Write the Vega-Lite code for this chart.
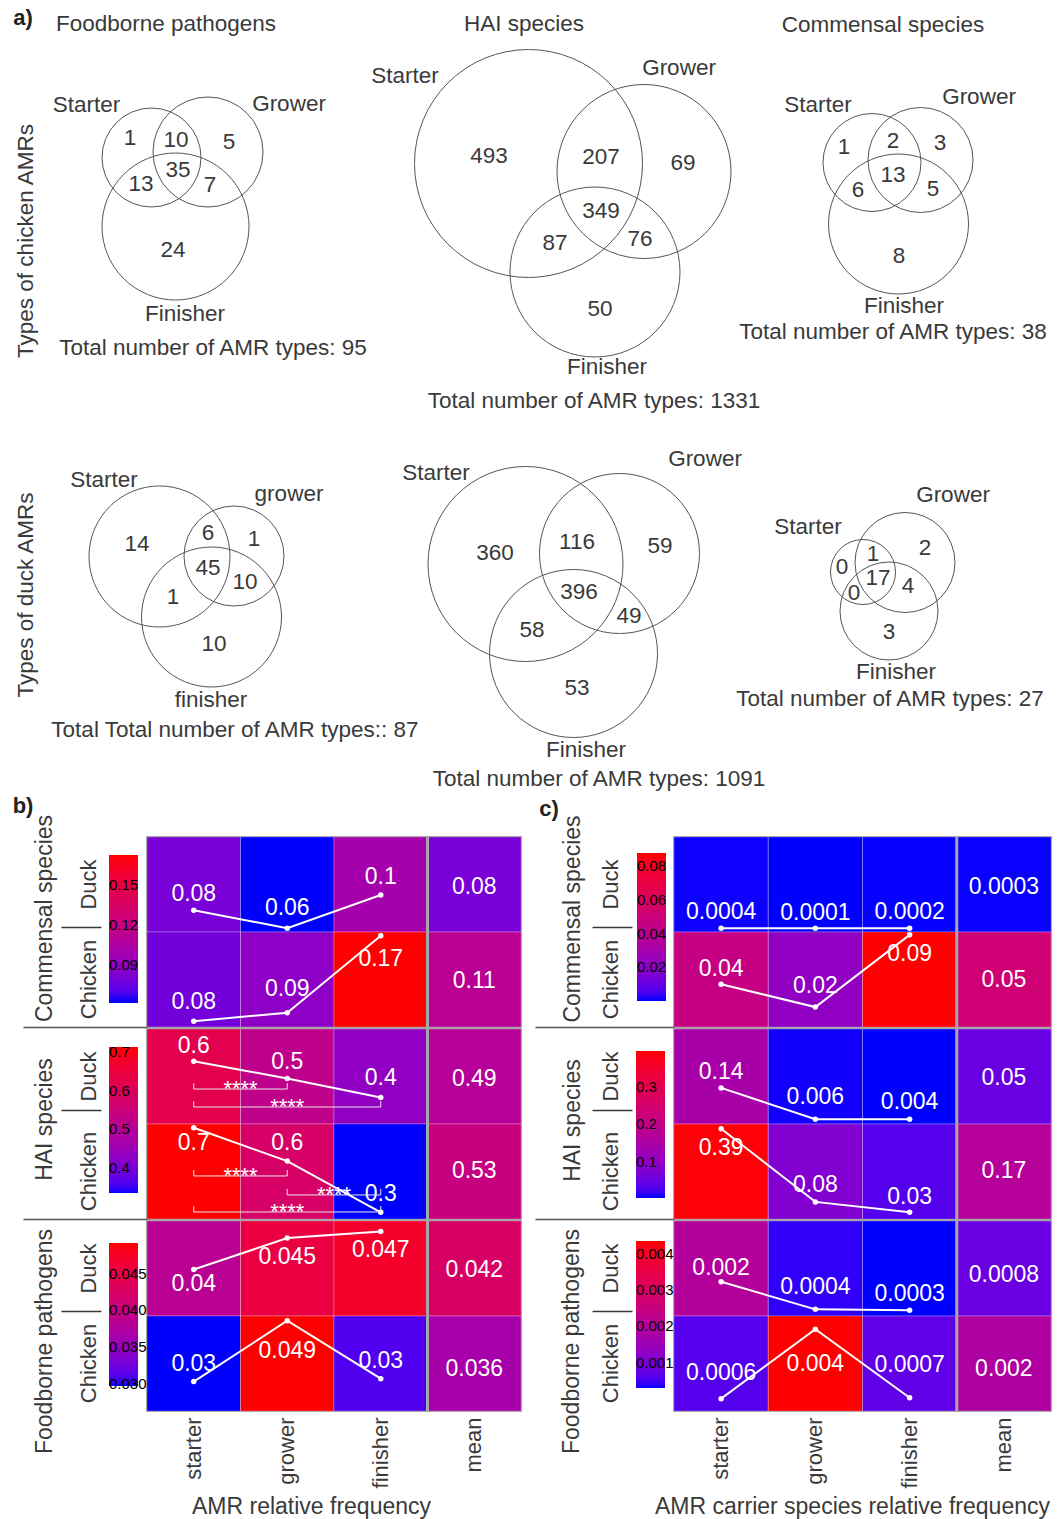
{
"$schema":"https://vega.github.io/schema/vega-lite/v6.json",
"padding":0,
"autosize":{"type":"pad"},
"background":"white",
"config":{"font":"Liberation Sans","view":{"stroke":"#7a7a7a","strokeWidth":1.5}},
"datasets":{
"cells":[
{"p":"b","g":"C","host":"Duck","stage":"starter","v":0.08,"label":"0.08","py":1.23,"ty":1.40},
{"p":"b","g":"C","host":"Duck","stage":"grower","v":0.0615,"label":"0.06","py":1.04,"ty":1.25},
{"p":"b","g":"C","host":"Duck","stage":"finisher","v":0.10,"label":"0.1","py":1.39,"ty":1.58},
{"p":"b","g":"C","host":"Duck","stage":"mean","v":0.08,"label":"0.08","py":null,"ty":1.47},
{"p":"b","g":"C","host":"Chicken","stage":"starter","v":0.078,"label":"0.08","py":0.06,"ty":0.26},
{"p":"b","g":"C","host":"Chicken","stage":"grower","v":0.088,"label":"0.09","py":0.15,"ty":0.40},
{"p":"b","g":"C","host":"Chicken","stage":"finisher","v":0.1725,"label":"0.17","py":0.96,"ty":0.72},
{"p":"b","g":"C","host":"Chicken","stage":"mean","v":0.112,"label":"0.11","py":null,"ty":0.48},
{"p":"b","g":"H","host":"Duck","stage":"starter","v":0.62,"label":"0.6","py":1.66,"ty":1.82},
{"p":"b","g":"H","host":"Duck","stage":"grower","v":0.52,"label":"0.5","py":1.48,"ty":1.65},
{"p":"b","g":"H","host":"Duck","stage":"finisher","v":0.43,"label":"0.4","py":1.28,"ty":1.48},
{"p":"b","g":"H","host":"Duck","stage":"mean","v":0.50,"label":"0.49","py":null,"ty":1.47},
{"p":"b","g":"H","host":"Chicken","stage":"starter","v":0.713,"label":"0.7","py":0.96,"ty":0.80},
{"p":"b","g":"H","host":"Chicken","stage":"grower","v":0.58,"label":"0.6","py":0.61,"ty":0.80},
{"p":"b","g":"H","host":"Chicken","stage":"finisher","v":0.335,"label":"0.3","py":0.07,"ty":0.26},
{"p":"b","g":"H","host":"Chicken","stage":"mean","v":0.54,"label":"0.53","py":null,"ty":0.51},
{"p":"b","g":"F","host":"Duck","stage":"starter","v":0.0385,"label":"0.04","py":1.49,"ty":1.34},
{"p":"b","g":"F","host":"Duck","stage":"grower","v":0.0455,"label":"0.045","py":1.82,"ty":1.62},
{"p":"b","g":"F","host":"Duck","stage":"finisher","v":0.0472,"label":"0.047","py":1.89,"ty":1.70},
{"p":"b","g":"F","host":"Duck","stage":"mean","v":0.0425,"label":"0.042","py":null,"ty":1.48},
{"p":"b","g":"F","host":"Chicken","stage":"starter","v":0.0297,"label":"0.03","py":0.31,"ty":0.49},
{"p":"b","g":"F","host":"Chicken","stage":"grower","v":0.0492,"label":"0.049","py":0.95,"ty":0.63},
{"p":"b","g":"F","host":"Chicken","stage":"finisher","v":0.031,"label":"0.03","py":0.34,"ty":0.53},
{"p":"b","g":"F","host":"Chicken","stage":"mean","v":0.0365,"label":"0.036","py":null,"ty":0.44},
{"p":"c","g":"C","host":"Duck","stage":"starter","v":0.0004,"label":"0.0004","py":1.04,"ty":1.21},
{"p":"c","g":"C","host":"Duck","stage":"grower","v":0.0001,"label":"0.0001","py":1.04,"ty":1.20},
{"p":"c","g":"C","host":"Duck","stage":"finisher","v":0.0002,"label":"0.0002","py":1.04,"ty":1.21},
{"p":"c","g":"C","host":"Duck","stage":"mean","v":0.0003,"label":"0.0003","py":null,"ty":1.47},
{"p":"c","g":"C","host":"Chicken","stage":"starter","v":0.046,"label":"0.04","py":0.45,"ty":0.61},
{"p":"c","g":"C","host":"Chicken","stage":"grower","v":0.022,"label":"0.02","py":0.21,"ty":0.43},
{"p":"c","g":"C","host":"Chicken","stage":"finisher","v":0.0876,"label":"0.09","py":0.97,"ty":0.77},
{"p":"c","g":"C","host":"Chicken","stage":"mean","v":0.052,"label":"0.05","py":null,"ty":0.49},
{"p":"c","g":"H","host":"Duck","stage":"starter","v":0.144,"label":"0.14","py":1.38,"ty":1.55},
{"p":"c","g":"H","host":"Duck","stage":"grower","v":0.006,"label":"0.006","py":1.05,"ty":1.28},
{"p":"c","g":"H","host":"Duck","stage":"finisher","v":0.004,"label":"0.004","py":1.05,"ty":1.23},
{"p":"c","g":"H","host":"Duck","stage":"mean","v":0.05,"label":"0.05","py":null,"ty":1.48},
{"p":"c","g":"H","host":"Chicken","stage":"starter","v":0.39,"label":"0.39","py":0.95,"ty":0.75},
{"p":"c","g":"H","host":"Chicken","stage":"grower","v":0.08,"label":"0.08","py":0.18,"ty":0.36},
{"p":"c","g":"H","host":"Chicken","stage":"finisher","v":0.034,"label":"0.03","py":0.07,"ty":0.23},
{"p":"c","g":"H","host":"Chicken","stage":"mean","v":0.17,"label":"0.17","py":null,"ty":0.51},
{"p":"c","g":"F","host":"Duck","stage":"starter","v":0.002,"label":"0.002","py":1.36,"ty":1.51},
{"p":"c","g":"F","host":"Duck","stage":"grower","v":0.0004,"label":"0.0004","py":1.07,"ty":1.31},
{"p":"c","g":"F","host":"Duck","stage":"finisher","v":0.0003,"label":"0.0003","py":1.06,"ty":1.23},
{"p":"c","g":"F","host":"Duck","stage":"mean","v":0.0008,"label":"0.0008","py":null,"ty":1.43},
{"p":"c","g":"F","host":"Chicken","stage":"starter","v":0.0006,"label":"0.0006","py":0.13,"ty":0.40},
{"p":"c","g":"F","host":"Chicken","stage":"grower","v":0.00436,"label":"0.004","py":0.86,"ty":0.50},
{"p":"c","g":"F","host":"Chicken","stage":"finisher","v":0.0007,"label":"0.0007","py":0.14,"ty":0.48},
{"p":"c","g":"F","host":"Chicken","stage":"mean","v":0.0019,"label":"0.002","py":null,"ty":0.44}
],
"br":[
{"host":"Duck","from":"starter","to":"grower","by":1.368,"bt":1.43,"ts":"starter","k":"e","sig":"****"},
{"host":"Duck","from":"starter","to":"finisher","by":1.179,"bt":1.24,"ts":"grower","k":"c","sig":"****"},
{"host":"Chicken","from":"starter","to":"grower","by":0.453,"bt":0.516,"ts":"starter","k":"e","sig":"****"},
{"host":"Chicken","from":"grower","to":"finisher","by":0.253,"bt":0.316,"ts":"grower","k":"e","sig":"****"},
{"host":"Chicken","from":"starter","to":"finisher","by":0.074,"bt":0.137,"ts":"grower","k":"c","sig":"****"}
],
"circles":[
{"d":"FC","s":"Starter","cx":150.5,"cy":157.5,"r":49.5},
{"d":"FC","s":"Grower","cx":207,"cy":152,"r":55},
{"d":"FC","s":"Finisher","cx":174.5,"cy":226.5,"r":73.5},
{"d":"HC","s":"Starter","cx":527.5,"cy":163.5,"r":114},
{"d":"HC","s":"Grower","cx":643,"cy":171.5,"r":87},
{"d":"HC","s":"Finisher","cx":594,"cy":272,"r":85},
{"d":"CC","s":"Starter","cx":871,"cy":162.5,"r":49},
{"d":"CC","s":"Grower","cx":919.5,"cy":160,"r":52.5},
{"d":"CC","s":"Finisher","cx":897.5,"cy":224,"r":70},
{"d":"FD","s":"Starter","cx":158.5,"cy":556.5,"r":70.5},
{"d":"FD","s":"Grower","cx":233,"cy":556,"r":50},
{"d":"FD","s":"Finisher","cx":210.5,"cy":617,"r":70},
{"d":"HD","s":"Starter","cx":524.5,"cy":564,"r":97.5},
{"d":"HD","s":"Grower","cx":618.5,"cy":553.5,"r":80},
{"d":"HD","s":"Finisher","cx":572.5,"cy":653.5,"r":84},
{"d":"CD","s":"Starter","cx":862,"cy":572,"r":32.5},
{"d":"CD","s":"Grower","cx":904,"cy":562.5,"r":50},
{"d":"CD","s":"Finisher","cx":888,"cy":611,"r":49}
],
"vtext":[
{"t":"a)","x":22,"y":18,"k":"p"},
{"t":"b)","x":22,"y":806,"k":"p"},
{"t":"c)","x":548,"y":809,"k":"p"},
{"t":"Types of chicken AMRs","x":25,"y":241,"k":"s"},
{"t":"Types of duck AMRs","x":25,"y":595,"k":"s"},
{"t":"Foodborne pathogens","x":165,"y":24,"k":"n"},
{"t":"HAI species","x":523,"y":24,"k":"n"},
{"t":"Commensal species","x":882,"y":25,"k":"n"},
{"t":"Starter","x":85.5,"y":105,"k":"n"},
{"t":"Grower","x":288,"y":104,"k":"n"},
{"t":"1","x":129,"y":138,"k":"n"},
{"t":"10","x":175,"y":140,"k":"n"},
{"t":"5","x":228,"y":142,"k":"n"},
{"t":"13","x":140,"y":184,"k":"n"},
{"t":"35","x":177,"y":170,"k":"n"},
{"t":"7","x":209,"y":185,"k":"n"},
{"t":"24","x":172,"y":250,"k":"n"},
{"t":"Finisher","x":184,"y":314,"k":"n"},
{"t":"Total number of AMR types: 95","x":212,"y":348,"k":"n"},
{"t":"Starter","x":404,"y":76,"k":"n"},
{"t":"Grower","x":678,"y":68,"k":"n"},
{"t":"493","x":488,"y":156,"k":"n"},
{"t":"207","x":600,"y":157,"k":"n"},
{"t":"69","x":682,"y":163,"k":"n"},
{"t":"349","x":600,"y":211,"k":"n"},
{"t":"87","x":554,"y":243,"k":"n"},
{"t":"76","x":639,"y":239,"k":"n"},
{"t":"50","x":599,"y":309,"k":"n"},
{"t":"Finisher","x":606,"y":367,"k":"n"},
{"t":"Total number of AMR types: 1331","x":593,"y":401,"k":"n"},
{"t":"Starter","x":817,"y":105,"k":"n"},
{"t":"Grower","x":978,"y":97,"k":"n"},
{"t":"1","x":843,"y":147,"k":"n"},
{"t":"2","x":892,"y":141,"k":"n"},
{"t":"3","x":939,"y":143,"k":"n"},
{"t":"13","x":892,"y":175,"k":"n"},
{"t":"6","x":857,"y":190,"k":"n"},
{"t":"5","x":932,"y":189,"k":"n"},
{"t":"8","x":898,"y":256,"k":"n"},
{"t":"Finisher","x":903,"y":306,"k":"n"},
{"t":"Total number of AMR types: 38","x":892,"y":332,"k":"n"},
{"t":"Starter","x":103,"y":480,"k":"n"},
{"t":"grower","x":288,"y":494,"k":"n"},
{"t":"14","x":136,"y":544,"k":"n"},
{"t":"6","x":207,"y":533,"k":"n"},
{"t":"1","x":253,"y":539,"k":"n"},
{"t":"45","x":207,"y":568,"k":"n"},
{"t":"10","x":244,"y":582,"k":"n"},
{"t":"1","x":172,"y":597,"k":"n"},
{"t":"10","x":213,"y":644,"k":"n"},
{"t":"finisher","x":210,"y":700,"k":"n"},
{"t":"Total Total number of AMR types:: 87","x":234,"y":730,"k":"n"},
{"t":"Starter","x":435,"y":473,"k":"n"},
{"t":"Grower","x":704,"y":459,"k":"n"},
{"t":"360","x":494,"y":553,"k":"n"},
{"t":"116","x":576,"y":542,"k":"n"},
{"t":"59","x":659,"y":546,"k":"n"},
{"t":"396","x":578,"y":592,"k":"n"},
{"t":"58","x":531,"y":630,"k":"n"},
{"t":"49","x":628,"y":616,"k":"n"},
{"t":"53","x":576,"y":688,"k":"n"},
{"t":"Finisher","x":585,"y":750,"k":"n"},
{"t":"Total number of AMR types: 1091","x":598,"y":779,"k":"n"},
{"t":"Grower","x":952,"y":495,"k":"n"},
{"t":"Starter","x":807,"y":527,"k":"n"},
{"t":"0","x":841,"y":567,"k":"n"},
{"t":"1","x":872,"y":554,"k":"n"},
{"t":"2","x":924,"y":548,"k":"n"},
{"t":"17","x":877,"y":578,"k":"n"},
{"t":"0","x":853,"y":593,"k":"n"},
{"t":"4","x":907,"y":586,"k":"n"},
{"t":"3","x":888,"y":632,"k":"n"},
{"t":"Finisher","x":895,"y":672,"k":"n"},
{"t":"Total number of AMR types: 27","x":889,"y":699,"k":"n"}
]
},
"columns":1,
"spacing":{"row":-17,"column":0},
"resolve":{"scale":{"color":"independent","size":"independent"},"legend":{"color":"independent"}},
"concat":[
{
"width":917,"height":830,
"view":{"stroke":null},
"layer":[
{"data":{"name":"circles"},
"mark":{"type":"point","shape":"circle","filled":false,"color":"#555555","strokeWidth":1,"opacity":1},
"encoding":{
"x":{"field":"cx","type":"quantitative","scale":{"domain":[146,1063],"nice":false,"zero":false},"axis":null},
"y":{"field":"cy","type":"quantitative","scale":{"domain":[0,830],"reverse":true,"nice":false,"zero":false},"axis":null},
"size":{"field":"r","type":"quantitative","scale":{"type":"pow","exponent":2,"domain":[0,120],"range":[0,57600],"zero":true,"nice":false},"legend":null}}},
{"data":{"name":"vtext"},"transform":[{"filter":"datum.k=='n'"}],
"mark":{"type":"text","fontSize":22.5,"color":"#3a3a3a","align":"center","baseline":"middle"},
"encoding":{
"x":{"field":"x","type":"quantitative","scale":{"domain":[146,1063],"nice":false,"zero":false},"axis":null},
"y":{"field":"y","type":"quantitative","scale":{"domain":[0,830],"reverse":true,"nice":false,"zero":false},"axis":null},
"text":{"field":"t"}}},
{"data":{"name":"vtext"},"transform":[{"filter":"datum.k=='s'"}],
"mark":{"type":"text","fontSize":22.5,"color":"#3a3a3a","align":"center","baseline":"middle","angle":270},
"encoding":{
"x":{"field":"x","type":"quantitative","scale":{"domain":[146,1063],"nice":false,"zero":false},"axis":null},
"y":{"field":"y","type":"quantitative","scale":{"domain":[0,830],"reverse":true,"nice":false,"zero":false},"axis":null},
"text":{"field":"t"}}},
{"data":{"name":"vtext"},"transform":[{"filter":"datum.k=='p'"}],
"mark":{"type":"text","fontSize":22,"fontWeight":"bold","color":"#222222","align":"center","baseline":"middle"},
"encoding":{
"x":{"field":"x","type":"quantitative","scale":{"domain":[146,1063],"nice":false,"zero":false},"axis":null},
"y":{"field":"y","type":"quantitative","scale":{"domain":[0,830],"reverse":true,"nice":false,"zero":false},"axis":null},
"text":{"field":"t"}}}
]
},
{
"hconcat":[
{
"vconcat":[
{
"width":374,"height":190,
"data":{"name":"cells"},
"transform":[{"filter":"datum.p=='b' && datum.g=='C'"}],
"resolve":{"scale":{"y":"independent"},"axis":{"y":"independent"}},
"layer":[
{"mark":{"type":"rect","stroke":"#ffffff","strokeOpacity":0.25,"strokeWidth":1},
"encoding":{
"x":{"field":"stage","type":"nominal","scale":{"domain":["starter","grower","finisher","mean"],"paddingInner":0,"paddingOuter":0},"axis":null},
"y":{"field":"host","type":"nominal","scale":{"domain":["Duck","Chicken"],"paddingInner":0,"paddingOuter":0},"axis":{"orient":"left","title":"Commensal species","titleX":-96,"titleY":81,"titleAngle":270,"titleAlign":"center","titleBaseline":"alphabetic","titleFontSize":23,"titleFontWeight":"normal","titleColor":"#3a3a3a","labelAngle":270,"labelAlign":"center","labelBaseline":"alphabetic","labelPadding":52,"labelFontSize":22,"labelColor":"#3a3a3a","ticks":false,"tickSize":0,"domain":false,"grid":false}},
"color":{"field":"v","type":"quantitative","scale":{"domain":[0.0615,0.1725],"range":["#0000ff","#ff0000"],"interpolate":"lab"},"legend":{"orient":"none","legendX":-38,"legendY":18,"direction":"vertical","gradientLength":148,"gradientThickness":29,"gradientStrokeWidth":0,"title":null,"labelOffset":-29,"labelFontSize":15,"labelColor":"#000000","labelOverlap":false,"padding":0,"values":[0.09,0.12,0.15],"format":".2f"}}}},
{"transform":[{"filter":"datum.stage=='mean' && datum.host=='Duck'"}],
"mark":{"type":"rule","color":"#a8a8a8","strokeWidth":3},
"encoding":{"x":{"field":"stage","type":"nominal","bandPosition":0,"scale":{"domain":["starter","grower","finisher","mean"],"paddingInner":0,"paddingOuter":0},"axis":null}}},
{"mark":{"type":"text","color":"#ffffff","fontSize":23,"align":"center","baseline":"middle"},
"encoding":{
"x":{"field":"stage","type":"nominal","scale":{"domain":["starter","grower","finisher","mean"],"paddingInner":0,"paddingOuter":0},"axis":null},
"y":{"field":"ty","type":"quantitative","scale":{"domain":[0,2],"nice":false,"zero":false},"axis":{"orient":"left","values":[0],"labels":false,"domain":false,"grid":false,"ticks":true,"tickSize":124,"tickColor":"#555555","tickWidth":1.5,"title":null}},
"text":{"field":"label"}}},
{"transform":[{"filter":"datum.stage!='mean'"}],
"mark":{"type":"line","color":"#ffffff","strokeWidth":2},
"encoding":{
"x":{"field":"stage","type":"nominal","scale":{"domain":["starter","grower","finisher","mean"],"paddingInner":0,"paddingOuter":0},"axis":null},
"y":{"field":"py","type":"quantitative","scale":{"domain":[0,2],"nice":false,"zero":false},"axis":{"orient":"left","values":[1.05],"offset":46,"labels":false,"domain":false,"grid":false,"ticks":true,"tickSize":40,"tickColor":"#3a3a3a","tickWidth":1.5,"title":null}},
"detail":{"field":"host"}}},
{"transform":[{"filter":"datum.stage!='mean'"}],
"mark":{"type":"circle","color":"#ffffff","size":30,"opacity":1},
"encoding":{
"x":{"field":"stage","type":"nominal","scale":{"domain":["starter","grower","finisher","mean"],"paddingInner":0,"paddingOuter":0},"axis":null},
"y":{"field":"py","type":"quantitative","scale":{"domain":[0,2],"nice":false,"zero":false},"axis":{"orient":"left","offset":146,"labels":false,"ticks":false,"grid":false,"domain":true,"domainColor":"#ffffff","title":null}}}}
]
},
{
"width":374,"height":190,
"data":{"name":"cells"},
"transform":[{"filter":"datum.p=='b' && datum.g=='H'"}],
"resolve":{"scale":{"y":"independent"},"axis":{"y":"independent"}},
"layer":[
{"mark":{"type":"rect","stroke":"#ffffff","strokeOpacity":0.25,"strokeWidth":1},
"encoding":{
"x":{"field":"stage","type":"nominal","scale":{"domain":["starter","grower","finisher","mean"],"paddingInner":0,"paddingOuter":0},"axis":null},
"y":{"field":"host","type":"nominal","scale":{"domain":["Duck","Chicken"],"paddingInner":0,"paddingOuter":0},"axis":{"orient":"left","title":"HAI species","titleX":-96,"titleY":90,"titleAngle":270,"titleAlign":"center","titleBaseline":"alphabetic","titleFontSize":23,"titleFontWeight":"normal","titleColor":"#3a3a3a","labelAngle":270,"labelAlign":"center","labelBaseline":"alphabetic","labelPadding":52,"labelFontSize":22,"labelColor":"#3a3a3a","ticks":false,"tickSize":0,"domain":false,"grid":false}},
"color":{"field":"v","type":"quantitative","scale":{"domain":[0.335,0.713],"range":["#0000ff","#ff0000"],"interpolate":"lab"},"legend":{"orient":"none","legendX":-38,"legendY":18,"direction":"vertical","gradientLength":146,"gradientThickness":29,"gradientStrokeWidth":0,"title":null,"labelOffset":-29,"labelFontSize":15,"labelColor":"#000000","labelOverlap":false,"padding":0,"values":[0.4,0.5,0.6,0.7],"format":".1f"}}}},
{"transform":[{"filter":"datum.stage=='mean' && datum.host=='Duck'"}],
"mark":{"type":"rule","color":"#a8a8a8","strokeWidth":3},
"encoding":{"x":{"field":"stage","type":"nominal","bandPosition":0,"scale":{"domain":["starter","grower","finisher","mean"],"paddingInner":0,"paddingOuter":0},"axis":null}}},
{"mark":{"type":"text","color":"#ffffff","fontSize":23,"align":"center","baseline":"middle"},
"encoding":{
"x":{"field":"stage","type":"nominal","scale":{"domain":["starter","grower","finisher","mean"],"paddingInner":0,"paddingOuter":0},"axis":null},
"y":{"field":"ty","type":"quantitative","scale":{"domain":[0,2],"nice":false,"zero":false},"axis":{"orient":"left","values":[0],"labels":false,"domain":false,"grid":false,"ticks":true,"tickSize":124,"tickColor":"#555555","tickWidth":1.5,"title":null}},
"text":{"field":"label"}}},
{"transform":[{"filter":"datum.stage!='mean'"}],
"mark":{"type":"line","color":"#ffffff","strokeWidth":2},
"encoding":{
"x":{"field":"stage","type":"nominal","scale":{"domain":["starter","grower","finisher","mean"],"paddingInner":0,"paddingOuter":0},"axis":null},
"y":{"field":"py","type":"quantitative","scale":{"domain":[0,2],"nice":false,"zero":false},"axis":{"orient":"left","values":[1.15],"offset":46,"labels":false,"domain":false,"grid":false,"ticks":true,"tickSize":40,"tickColor":"#3a3a3a","tickWidth":1.5,"title":null}},
"detail":{"field":"host"}}},
{"transform":[{"filter":"datum.stage!='mean'"}],
"mark":{"type":"circle","color":"#ffffff","size":30,"opacity":1},
"encoding":{
"x":{"field":"stage","type":"nominal","scale":{"domain":["starter","grower","finisher","mean"],"paddingInner":0,"paddingOuter":0},"axis":null},
"y":{"field":"py","type":"quantitative","scale":{"domain":[0,2],"nice":false,"zero":false},"axis":null}}},
{"data":{"name":"br"},
"mark":{"type":"rule","color":"#e8e8e8","strokeWidth":1},
"encoding":{
"x":{"field":"from","type":"nominal","bandPosition":0.5,"scale":{"domain":["starter","grower","finisher","mean"],"paddingInner":0,"paddingOuter":0},"axis":null},
"x2":{"field":"to","bandPosition":0.5},
"y":{"field":"by","type":"quantitative","scale":{"domain":[0,2],"nice":false,"zero":false},"axis":null}}},
{"data":{"name":"br"},
"mark":{"type":"rule","color":"#e8e8e8","strokeWidth":1},
"encoding":{
"x":{"field":"from","type":"nominal","bandPosition":0.5,"scale":{"domain":["starter","grower","finisher","mean"],"paddingInner":0,"paddingOuter":0},"axis":null},
"y":{"field":"by","type":"quantitative","scale":{"domain":[0,2],"nice":false,"zero":false},"axis":null},
"y2":{"field":"bt"}}},
{"data":{"name":"br"},
"mark":{"type":"rule","color":"#e8e8e8","strokeWidth":1},
"encoding":{
"x":{"field":"to","type":"nominal","bandPosition":0.5,"scale":{"domain":["starter","grower","finisher","mean"],"paddingInner":0,"paddingOuter":0},"axis":null},
"y":{"field":"by","type":"quantitative","scale":{"domain":[0,2],"nice":false,"zero":false},"axis":null},
"y2":{"field":"bt"}}},
{"data":{"name":"br"},"transform":[{"filter":"datum.k=='e'"}],
"mark":{"type":"text","color":"#ffffff","fontSize":22,"align":"center","baseline":"alphabetic","dy":7},
"encoding":{
"x":{"field":"ts","type":"nominal","bandPosition":1,"scale":{"domain":["starter","grower","finisher","mean"],"paddingInner":0,"paddingOuter":0},"axis":null},
"y":{"field":"by","type":"quantitative","scale":{"domain":[0,2],"nice":false,"zero":false},"axis":null},
"text":{"field":"sig"}}},
{"data":{"name":"br"},"transform":[{"filter":"datum.k=='c'"}],
"mark":{"type":"text","color":"#ffffff","fontSize":22,"align":"center","baseline":"alphabetic","dy":7},
"encoding":{
"x":{"field":"ts","type":"nominal","bandPosition":0.5,"scale":{"domain":["starter","grower","finisher","mean"],"paddingInner":0,"paddingOuter":0},"axis":null},
"y":{"field":"by","type":"quantitative","scale":{"domain":[0,2],"nice":false,"zero":false},"axis":null},
"text":{"field":"sig"}}}
]
},
{
"width":374,"height":190,
"data":{"name":"cells"},
"transform":[{"filter":"datum.p=='b' && datum.g=='F'"}],
"resolve":{"scale":{"y":"independent"},"axis":{"y":"independent"}},
"layer":[
{"mark":{"type":"rect","stroke":"#ffffff","strokeOpacity":0.25,"strokeWidth":1},
"encoding":{
"x":{"field":"stage","type":"nominal","scale":{"domain":["starter","grower","finisher","mean"],"paddingInner":0,"paddingOuter":0},"axis":{"orient":"bottom","title":"AMR relative frequency","titleX":164,"titleFontSize":23,"titleFontWeight":"normal","titleColor":"#3a3a3a","titlePadding":8,"labelAngle":270,"labelAlign":"right","labelBaseline":"middle","labelFontSize":22,"labelColor":"#3a3a3a","labelPadding":6,"ticks":false,"tickSize":0,"domain":false,"grid":false}},
"y":{"field":"host","type":"nominal","scale":{"domain":["Duck","Chicken"],"paddingInner":0,"paddingOuter":0},"axis":{"orient":"left","title":"Foodborne pathogens","titleX":-96,"titleY":120,"titleAngle":270,"titleAlign":"center","titleBaseline":"alphabetic","titleFontSize":23,"titleFontWeight":"normal","titleColor":"#3a3a3a","labelAngle":270,"labelAlign":"center","labelBaseline":"alphabetic","labelPadding":52,"labelFontSize":22,"labelColor":"#3a3a3a","ticks":false,"tickSize":0,"domain":false,"grid":false}},
"color":{"field":"v","type":"quantitative","scale":{"domain":[0.0297,0.0492],"range":["#0000ff","#ff0000"],"interpolate":"lab"},"legend":{"orient":"none","legendX":-38,"legendY":22,"direction":"vertical","gradientLength":143,"gradientThickness":29,"gradientStrokeWidth":0,"title":null,"labelOffset":-29,"labelFontSize":15,"labelColor":"#000000","labelOverlap":false,"padding":0,"values":[0.03,0.035,0.04,0.045],"format":".3f"}}}},
{"transform":[{"filter":"datum.stage=='mean' && datum.host=='Duck'"}],
"mark":{"type":"rule","color":"#a8a8a8","strokeWidth":3},
"encoding":{"x":{"field":"stage","type":"nominal","bandPosition":0,"scale":{"domain":["starter","grower","finisher","mean"],"paddingInner":0,"paddingOuter":0}}}},
{"mark":{"type":"text","color":"#ffffff","fontSize":23,"align":"center","baseline":"middle"},
"encoding":{
"x":{"field":"stage","type":"nominal","scale":{"domain":["starter","grower","finisher","mean"],"paddingInner":0,"paddingOuter":0}},
"y":{"field":"ty","type":"quantitative","scale":{"domain":[0,2],"nice":false,"zero":false},"axis":null},
"text":{"field":"label"}}},
{"transform":[{"filter":"datum.stage!='mean'"}],
"mark":{"type":"line","color":"#ffffff","strokeWidth":2},
"encoding":{
"x":{"field":"stage","type":"nominal","scale":{"domain":["starter","grower","finisher","mean"],"paddingInner":0,"paddingOuter":0}},
"y":{"field":"py","type":"quantitative","scale":{"domain":[0,2],"nice":false,"zero":false},"axis":{"orient":"left","values":[1.05],"offset":46,"labels":false,"domain":false,"grid":false,"ticks":true,"tickSize":40,"tickColor":"#3a3a3a","tickWidth":1.5,"title":null}},
"detail":{"field":"host"}}},
{"transform":[{"filter":"datum.stage!='mean'"}],
"mark":{"type":"circle","color":"#ffffff","size":30,"opacity":1},
"encoding":{
"x":{"field":"stage","type":"nominal","scale":{"domain":["starter","grower","finisher","mean"],"paddingInner":0,"paddingOuter":0}},
"y":{"field":"py","type":"quantitative","scale":{"domain":[0,2],"nice":false,"zero":false},"axis":null}}}
]
}
],
"spacing":2,
"bounds":"flush",
"resolve":{"scale":{"color":"independent"},"legend":{"color":"independent"}}
},
{
"vconcat":[
{
"width":377,"height":190,
"data":{"name":"cells"},
"transform":[{"filter":"datum.p=='c' && datum.g=='C'"}],
"resolve":{"scale":{"y":"independent"},"axis":{"y":"independent"}},
"layer":[
{"mark":{"type":"rect","stroke":"#ffffff","strokeOpacity":0.25,"strokeWidth":1},
"encoding":{
"x":{"field":"stage","type":"nominal","scale":{"domain":["starter","grower","finisher","mean"],"paddingInner":0,"paddingOuter":0},"axis":null},
"y":{"field":"host","type":"nominal","scale":{"domain":["Duck","Chicken"],"paddingInner":0,"paddingOuter":0},"axis":{"orient":"left","title":"Commensal species","titleX":-95,"titleY":81.5,"titleAngle":270,"titleAlign":"center","titleBaseline":"alphabetic","titleFontSize":23,"titleFontWeight":"normal","titleColor":"#3a3a3a","labelAngle":270,"labelAlign":"center","labelBaseline":"alphabetic","labelPadding":57,"labelFontSize":22,"labelColor":"#3a3a3a","ticks":false,"tickSize":0,"domain":false,"grid":false}},
"color":{"field":"v","type":"quantitative","scale":{"domain":[0.0001,0.0876],"range":["#0000ff","#ff0000"],"interpolate":"lab"},"legend":{"orient":"none","legendX":-37,"legendY":16,"direction":"vertical","gradientLength":148,"gradientThickness":29,"gradientStrokeWidth":0,"title":null,"labelOffset":-29,"labelFontSize":15,"labelColor":"#000000","labelOverlap":false,"padding":0,"values":[0.02,0.04,0.06,0.08],"format":".2f"}}}},
{"transform":[{"filter":"datum.stage=='mean' && datum.host=='Duck'"}],
"mark":{"type":"rule","color":"#a8a8a8","strokeWidth":3},
"encoding":{"x":{"field":"stage","type":"nominal","bandPosition":0,"scale":{"domain":["starter","grower","finisher","mean"],"paddingInner":0,"paddingOuter":0},"axis":null}}},
{"mark":{"type":"text","color":"#ffffff","fontSize":23,"align":"center","baseline":"middle"},
"encoding":{
"x":{"field":"stage","type":"nominal","scale":{"domain":["starter","grower","finisher","mean"],"paddingInner":0,"paddingOuter":0},"axis":null},
"y":{"field":"ty","type":"quantitative","scale":{"domain":[0,2],"nice":false,"zero":false},"axis":{"orient":"left","values":[0],"labels":false,"domain":false,"grid":false,"ticks":true,"tickSize":139,"tickColor":"#555555","tickWidth":1.5,"title":null}},
"text":{"field":"label"}}},
{"transform":[{"filter":"datum.stage!='mean'"}],
"mark":{"type":"line","color":"#ffffff","strokeWidth":2},
"encoding":{
"x":{"field":"stage","type":"nominal","scale":{"domain":["starter","grower","finisher","mean"],"paddingInner":0,"paddingOuter":0},"axis":null},
"y":{"field":"py","type":"quantitative","scale":{"domain":[0,2],"nice":false,"zero":false},"axis":{"orient":"left","values":[1.05],"offset":42,"labels":false,"domain":false,"grid":false,"ticks":true,"tickSize":40,"tickColor":"#3a3a3a","tickWidth":1.5,"title":null}},
"detail":{"field":"host"}}},
{"transform":[{"filter":"datum.stage!='mean'"}],
"mark":{"type":"circle","color":"#ffffff","size":30,"opacity":1},
"encoding":{
"x":{"field":"stage","type":"nominal","scale":{"domain":["starter","grower","finisher","mean"],"paddingInner":0,"paddingOuter":0},"axis":null},
"y":{"field":"py","type":"quantitative","scale":{"domain":[0,2],"nice":false,"zero":false},"axis":null}}}
]
},
{
"width":377,"height":190,
"data":{"name":"cells"},
"transform":[{"filter":"datum.p=='c' && datum.g=='H'"}],
"resolve":{"scale":{"y":"independent"},"axis":{"y":"independent"}},
"layer":[
{"mark":{"type":"rect","stroke":"#ffffff","strokeOpacity":0.25,"strokeWidth":1},
"encoding":{
"x":{"field":"stage","type":"nominal","scale":{"domain":["starter","grower","finisher","mean"],"paddingInner":0,"paddingOuter":0},"axis":null},
"y":{"field":"host","type":"nominal","scale":{"domain":["Duck","Chicken"],"paddingInner":0,"paddingOuter":0},"axis":{"orient":"left","title":"HAI species","titleX":-95,"titleY":91,"titleAngle":270,"titleAlign":"center","titleBaseline":"alphabetic","titleFontSize":23,"titleFontWeight":"normal","titleColor":"#3a3a3a","labelAngle":270,"labelAlign":"center","labelBaseline":"alphabetic","labelPadding":57,"labelFontSize":22,"labelColor":"#3a3a3a","ticks":false,"tickSize":0,"domain":false,"grid":false}},
"color":{"field":"v","type":"quantitative","scale":{"domain":[0.004,0.395],"range":["#0000ff","#ff0000"],"interpolate":"lab"},"legend":{"orient":"none","legendX":-38,"legendY":22,"direction":"vertical","gradientLength":147,"gradientThickness":29,"gradientStrokeWidth":0,"title":null,"labelOffset":-29,"labelFontSize":15,"labelColor":"#000000","labelOverlap":false,"padding":0,"values":[0.1,0.2,0.3],"format":".1f"}}}},
{"transform":[{"filter":"datum.stage=='mean' && datum.host=='Duck'"}],
"mark":{"type":"rule","color":"#a8a8a8","strokeWidth":3},
"encoding":{"x":{"field":"stage","type":"nominal","bandPosition":0,"scale":{"domain":["starter","grower","finisher","mean"],"paddingInner":0,"paddingOuter":0},"axis":null}}},
{"mark":{"type":"text","color":"#ffffff","fontSize":23,"align":"center","baseline":"middle"},
"encoding":{
"x":{"field":"stage","type":"nominal","scale":{"domain":["starter","grower","finisher","mean"],"paddingInner":0,"paddingOuter":0},"axis":null},
"y":{"field":"ty","type":"quantitative","scale":{"domain":[0,2],"nice":false,"zero":false},"axis":{"orient":"left","values":[0],"labels":false,"domain":false,"grid":false,"ticks":true,"tickSize":139,"tickColor":"#555555","tickWidth":1.5,"title":null}},
"text":{"field":"label"}}},
{"transform":[{"filter":"datum.stage!='mean'"}],
"mark":{"type":"line","color":"#ffffff","strokeWidth":2},
"encoding":{
"x":{"field":"stage","type":"nominal","scale":{"domain":["starter","grower","finisher","mean"],"paddingInner":0,"paddingOuter":0},"axis":null},
"y":{"field":"py","type":"quantitative","scale":{"domain":[0,2],"nice":false,"zero":false},"axis":{"orient":"left","values":[1.15],"offset":42,"labels":false,"domain":false,"grid":false,"ticks":true,"tickSize":40,"tickColor":"#3a3a3a","tickWidth":1.5,"title":null}},
"detail":{"field":"host"}}},
{"transform":[{"filter":"datum.stage!='mean'"}],
"mark":{"type":"circle","color":"#ffffff","size":30,"opacity":1},
"encoding":{
"x":{"field":"stage","type":"nominal","scale":{"domain":["starter","grower","finisher","mean"],"paddingInner":0,"paddingOuter":0},"axis":null},
"y":{"field":"py","type":"quantitative","scale":{"domain":[0,2],"nice":false,"zero":false},"axis":null}}}
]
},
{
"width":377,"height":190,
"data":{"name":"cells"},
"transform":[{"filter":"datum.p=='c' && datum.g=='F'"}],
"resolve":{"scale":{"y":"independent"},"axis":{"y":"independent"}},
"layer":[
{"mark":{"type":"rect","stroke":"#ffffff","strokeOpacity":0.25,"strokeWidth":1},
"encoding":{
"x":{"field":"stage","type":"nominal","scale":{"domain":["starter","grower","finisher","mean"],"paddingInner":0,"paddingOuter":0},"axis":{"orient":"bottom","title":"AMR carrier species relative frequency","titleX":178,"titleFontSize":23,"titleFontWeight":"normal","titleColor":"#3a3a3a","titlePadding":8,"labelAngle":270,"labelAlign":"right","labelBaseline":"middle","labelFontSize":22,"labelColor":"#3a3a3a","labelPadding":6,"ticks":false,"tickSize":0,"domain":false,"grid":false}},
"y":{"field":"host","type":"nominal","scale":{"domain":["Duck","Chicken"],"paddingInner":0,"paddingOuter":0},"axis":{"orient":"left","title":"Foodborne pathogens","titleX":-96,"titleY":120,"titleAngle":270,"titleAlign":"center","titleBaseline":"alphabetic","titleFontSize":23,"titleFontWeight":"normal","titleColor":"#3a3a3a","labelAngle":270,"labelAlign":"center","labelBaseline":"alphabetic","labelPadding":57,"labelFontSize":22,"labelColor":"#3a3a3a","ticks":false,"tickSize":0,"domain":false,"grid":false}},
"color":{"field":"v","type":"quantitative","scale":{"domain":[0.0003,0.00436],"range":["#0000ff","#ff0000"],"interpolate":"lab"},"legend":{"orient":"none","legendX":-38,"legendY":20,"direction":"vertical","gradientLength":147,"gradientThickness":29,"gradientStrokeWidth":0,"title":null,"labelOffset":-29,"labelFontSize":15,"labelColor":"#000000","labelOverlap":false,"padding":0,"values":[0.001,0.002,0.003,0.004],"format":".3f"}}}},
{"transform":[{"filter":"datum.stage=='mean' && datum.host=='Duck'"}],
"mark":{"type":"rule","color":"#a8a8a8","strokeWidth":3},
"encoding":{"x":{"field":"stage","type":"nominal","bandPosition":0,"scale":{"domain":["starter","grower","finisher","mean"],"paddingInner":0,"paddingOuter":0}}}},
{"mark":{"type":"text","color":"#ffffff","fontSize":23,"align":"center","baseline":"middle"},
"encoding":{
"x":{"field":"stage","type":"nominal","scale":{"domain":["starter","grower","finisher","mean"],"paddingInner":0,"paddingOuter":0}},
"y":{"field":"ty","type":"quantitative","scale":{"domain":[0,2],"nice":false,"zero":false},"axis":null},
"text":{"field":"label"}}},
{"transform":[{"filter":"datum.stage!='mean'"}],
"mark":{"type":"line","color":"#ffffff","strokeWidth":2},
"encoding":{
"x":{"field":"stage","type":"nominal","scale":{"domain":["starter","grower","finisher","mean"],"paddingInner":0,"paddingOuter":0}},
"y":{"field":"py","type":"quantitative","scale":{"domain":[0,2],"nice":false,"zero":false},"axis":{"orient":"left","values":[1.05],"offset":42,"labels":false,"domain":false,"grid":false,"ticks":true,"tickSize":40,"tickColor":"#3a3a3a","tickWidth":1.5,"title":null}},
"detail":{"field":"host"}}},
{"transform":[{"filter":"datum.stage!='mean'"}],
"mark":{"type":"circle","color":"#ffffff","size":30,"opacity":1},
"encoding":{
"x":{"field":"stage","type":"nominal","scale":{"domain":["starter","grower","finisher","mean"],"paddingInner":0,"paddingOuter":0}},
"y":{"field":"py","type":"quantitative","scale":{"domain":[0,2],"nice":false,"zero":false},"axis":null}}}
]
}
],
"spacing":2,
"bounds":"flush",
"resolve":{"scale":{"color":"independent"},"legend":{"color":"independent"}}
}
],
"spacing":10,
"resolve":{"scale":{"color":"independent"},"legend":{"color":"independent"}}
}
]
}
